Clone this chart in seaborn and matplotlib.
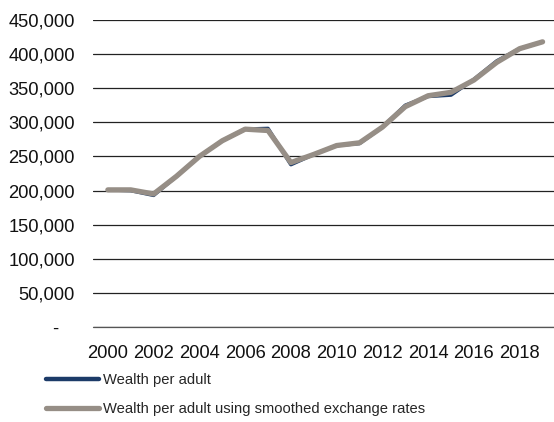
import pandas as pd
import numpy as np
import matplotlib
matplotlib.use("Agg")
import matplotlib.pyplot as plt
import seaborn as sns
from matplotlib.ticker import FuncFormatter

# values
years = list(range(2000, 2020))
wealth = [201000, 200000, 193000, 221000, 250000, 273000, 290000, 291000, 238000, 253000,
          266000, 269000, 293000, 325000, 338000, 340000, 363000, 390000, 408000, 418000]
wealth_smoothed = [201000, 201000, 195000, 221000, 250000, 273000, 290000, 288000, 241000, 253000,
                   266000, 270000, 293000, 323000, 339000, 344000, 362000, 388000, 408000, 418000]
series_names = ["Wealth per adult", "Wealth per adult using smoothed exchange rates"]
colors = ["#1c3b68", "#968e86"]

df = pd.DataFrame({
    "year": years * 2,
    "value": wealth + wealth_smoothed,
    "series": [series_names[0]] * len(years) + [series_names[1]] * len(years),
})

sns.set_style("white")
plt.rcParams["font.family"] = ["Liberation Sans", "DejaVu Sans"]

fig = plt.figure(figsize=(5.54, 4.22), dpi=100)
ax = fig.add_axes([93 / 554, 1 - 327 / 422, 1 - 93 / 554, (327 - 20) / 422])

sns.lineplot(data=df, x="year", y="value", hue="series", palette=colors, ax=ax, legend=False)
ax.lines[0].set_linewidth(2.6)
ax.lines[1].set_linewidth(3.8)

ax.set_ylim(0, 450000)
ax.set_xlim(1999.35, 2019.5)
ax.set_yticks(np.arange(0, 450001, 50000))
ax.yaxis.set_major_formatter(FuncFormatter(lambda v, p: "-   " if v == 0 else f"{int(v):,}"))
ax.set_xticks(years[::2])
ax.set_xticklabels([str(y) for y in years[::2]])
ax.tick_params(axis="both", labelsize=13.2, length=0, colors="#111111")
ax.tick_params(axis="y", pad=13)
ax.tick_params(axis="x", pad=13)
ax.set_xlabel("")
ax.set_ylabel("")
ax.grid(axis="y", color="#222222", linewidth=0.9)
ax.axhline(0, color="#555555", linewidth=0.9, clip_on=False, zorder=0)
ax.set_axisbelow(True)
for s in ax.spines.values():
    s.set_visible(False)

handles = [plt.Line2D([], [], color=colors[0], linewidth=3.2, solid_capstyle="round"),
           plt.Line2D([], [], color=colors[1], linewidth=3.8, solid_capstyle="round")]
fig.legend(handles, series_names, loc="upper left", bbox_to_anchor=(46 / 554, 1 - 373 / 422),
           frameon=False, fontsize=10.6, handlelength=3.6, handletextpad=0.25,
           labelspacing=1.0, borderpad=0, borderaxespad=0)

fig.savefig("out.png", dpi=100)
